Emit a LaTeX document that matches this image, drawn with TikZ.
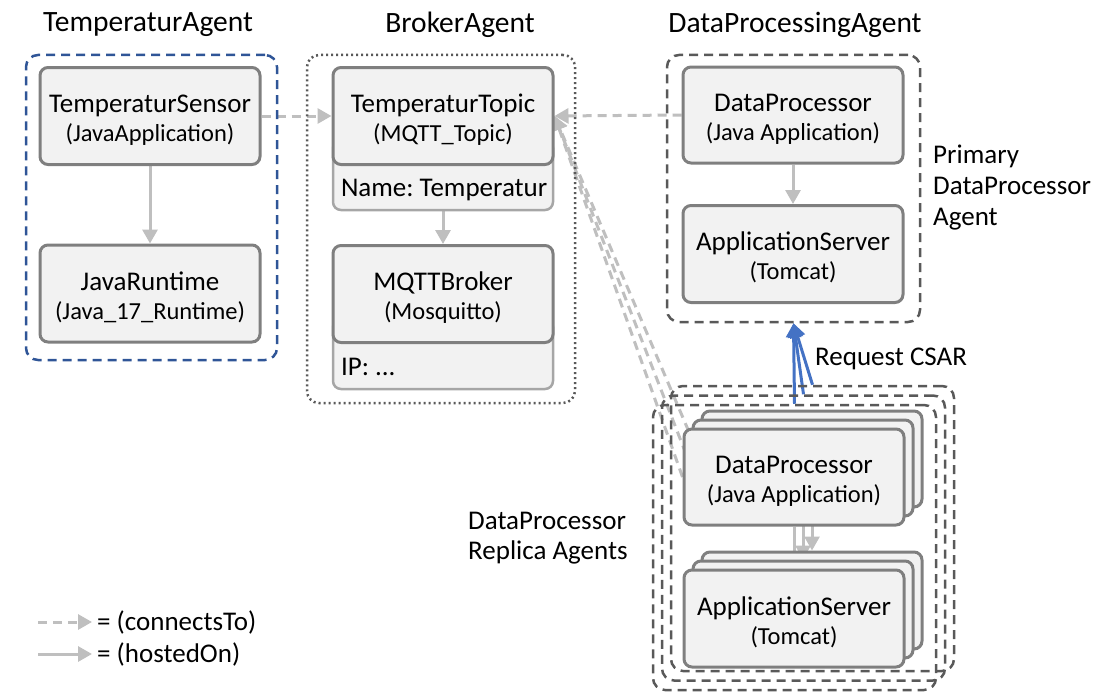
\documentclass[tikz,border=0pt]{standalone}
\usepackage{fontspec}
\setmainfont{Carlito}
\usetikzlibrary{arrows.meta,backgrounds}

\definecolor{compfill}{HTML}{F2F2F2}
\definecolor{compline}{HTML}{7F7F7F}
\definecolor{attrline}{HTML}{A6A6A6}
\definecolor{relline}{HTML}{BFBFBF}
\definecolor{agentline}{HTML}{595959}
\definecolor{tempblue}{HTML}{2F5597}
\definecolor{csarblue}{HTML}{4472C4}

\newcommand{\mainfs}{\fontsize{27}{29}\selectfont}
\newcommand{\subfs}{\fontsize{24.5}{29}\selectfont}
\newcommand{\titlefs}{\fontsize{29.5}{31}\selectfont}
\newcommand{\comptext}[2]{{\mainfs\rule{0pt}{26pt}#1}\\{\subfs #2}}
\newcommand{\attrtext}[1]{\makebox[204pt][l]{#1}}
\frenchspacing

\begin{document}
\begin{tikzpicture}[x=1pt,y=-1pt,>={Triangle[length=14pt,width=15pt]}]

\tikzstyle{comp}=[draw=compline, fill=compfill, line width=3pt, rounded corners=8pt, minimum width=220pt, minimum height=97pt, inner sep=0pt, align=center, font=\subfs]
\tikzstyle{attr}=[draw=attrline, fill=compfill, line width=2.5pt, rounded corners=8pt, minimum width=220pt, minimum height=70pt, text height=48pt, text depth=6pt, inner sep=0pt, font=\mainfs]
\tikzstyle{agent}=[draw=agentline, line width=2.5pt, dash pattern=on 9pt off 6pt, rounded corners=12pt, inner sep=0pt]
\tikzstyle{title}=[font=\titlefs, inner sep=0pt]
\tikzstyle{lbl}=[font=\fontsize{27}{31}\selectfont, align=left, anchor=west, inner sep=0pt]
\tikzstyle{conn}=[->, draw=relline, line width=3pt, dash pattern=on 9pt off 6pt]
\tikzstyle{host}=[->, draw=relline, line width=3pt]
\tikzstyle{csar}=[->, draw=csarblue, line width=3pt]

\useasboundingbox (0,0) rectangle (1094,693);

% agents
\node(tagent)[agent, draw=tempblue, minimum width=251pt, minimum height=305pt] at (151.5,207.5) {};
\node(bagent)[agent, dash pattern=on 2pt off 3pt, minimum width=268pt, minimum height=348pt] at (441,229) {};
\node(pagent)[agent, minimum width=253pt, minimum height=267pt] at (793.5,188.5) {};
\foreach \i in {2,1,0}
  \node(ragent\i)[agent, minimum width=283pt, minimum height=285pt] at (794.5+9*\i,547.5-9.5*\i) {};

\node(ttitle)[title] at (148,25) {TemperaturAgent};
\node(btitle)[title] at (460,25) {BrokerAgent};
\node(ptitle)[title] at (795,25) {DataProcessingAgent};

% temperatur agent
\node(tsensor)[comp] at (150,116) {\comptext{TemperaturSensor}{(JavaApplication)}};
\node(jruntime)[comp] at (150,293.5) {\comptext{JavaRuntime}{(Java\_17\_Runtime)}};

% broker agent
\node(topicattr)[attr] at (443,175) {\attrtext{Name: Temperatur}};
\node(ttopic)[comp] at (443,116) {\comptext{TemperaturTopic}{(MQTT\_Topic)}};
\node(brokerattr)[attr] at (443,354) {\attrtext{IP: ...}};
\node(mqtt)[comp] at (443,294) {\comptext{MQTTBroker}{(Mosquitto)}};

% primary agent
\node(pdp)[comp, minimum height=96pt] at (793,115) {\comptext{DataProcessor}{(Java Application)}};
\node(pas)[comp] at (793,254) {\comptext{ApplicationServer}{(Tomcat)}};

% replica agents
\foreach \i in {2,1} {
  \node(rdp\i)[comp, minimum height=96pt] at (794+9*\i,477-9*\i) {};
  \node(ras\i)[comp] at (794+9*\i,618.5-9*\i) {};
}
\node(rdp0)[comp, minimum height=96pt] at (794,477) {\comptext{DataProcessor}{(Java Application)}};
\node(ras0)[comp] at (794,618.5) {\comptext{ApplicationServer}{(Tomcat)}};

\node(plbl)[lbl] at (933,188) {Primary\\DataProcessor\\Agent};
\node(rlbl)[lbl, font=\fontsize{27}{30}\selectfont] at (468,538) {DataProcessor\\Replica Agents};
\node(csarlbl)[lbl] at (815,359) {Request CSAR};

% legend
\coordinate(conna) at (38,622);
\coordinate(connb) at (92,622);
\coordinate(hosta) at (38,654);
\coordinate(hostb) at (92,654);
\node(connlbl)[lbl] at (97,622) {= (connectsTo)};
\node(hostlbl)[lbl] at (97,654) {= (hostedOn)};

\begin{scope}[on background layer]
\draw[conn] (tsensor.east) -- (ttopic.west);
\draw[conn] (pdp.west) -- (ttopic.east);
\foreach \i in {0,1,2}
  \draw[conn] (rdp\i.west) -- (ttopic.east);
\draw[host] (tsensor) -- (jruntime);
\draw[host] (topicattr.south) -- (mqtt.north);
\draw[host] (pdp) -- (pas);
\foreach \i in {0,1,2}
  \draw[host] (rdp\i.south) -- (ras\i.north);
\foreach \i in {0,1,2}
  \draw[csar] (ragent\i.north) -- (pagent.south);
\draw[conn] (conna) -- (connb);
\draw[host] (hosta) -- (hostb);
\end{scope}

\end{tikzpicture}
\end{document}
